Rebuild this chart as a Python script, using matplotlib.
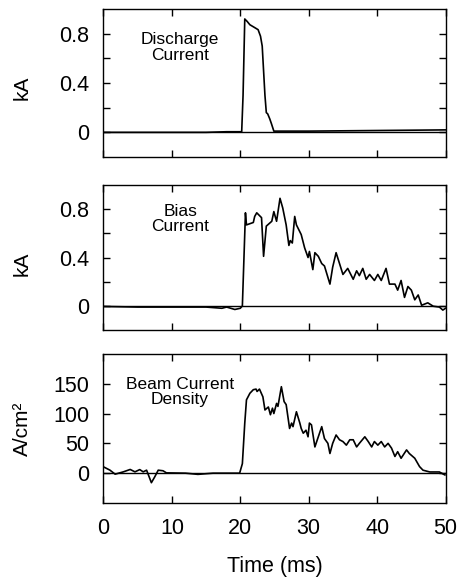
import numpy as np
import matplotlib
matplotlib.use('Agg')
import matplotlib.pyplot as plt

plt.rcParams['font.family'] = ['Liberation Sans', 'DejaVu Sans']

# discharge current (kA)
t_dis = [0, 5, 10, 15, 18, 20.2, 20.4, 20.65, 21.0, 21.4, 22.1, 22.6, 22.95, 23.2,
         23.4, 23.6, 23.8, 24.0, 24.3, 24.55, 24.9, 26, 30, 40, 50]
i_dis = [0.0, 0.0, 0.0, 0.0, 0.005, 0.005, 0.3, 0.92, 0.9, 0.873, 0.85, 0.833, 0.78, 0.7,
         0.5, 0.3, 0.16, 0.15, 0.11, 0.07, 0.01, 0.01, 0.01, 0.015, 0.02]

# bias current (kA)
t_bias = [0, 5, 10, 15, 17.3, 18, 19.2, 20.0, 20.3, 20.75, 20.9, 21.9, 22.1, 22.4, 23.1,
          23.4, 23.8, 24.6, 24.9, 25.3, 25.8, 26.2, 26.7, 27.1, 27.3, 27.6, 27.95,
          28.2, 28.9, 29.4, 29.9, 30.1, 30.6, 30.9, 31.4, 31.9, 32.3, 33.1, 33.5,
          34.0, 34.5, 35.0, 35.7, 36.5, 37.0, 37.4, 37.9, 38.4, 38.9, 39.6, 40.1,
          40.6, 41.3, 41.8, 42.6, 43.0, 43.5, 44.0, 44.5, 45.0, 45.5, 46.0, 46.5,
          47.4, 48.2, 49.1, 49.6, 50]
i_bias = [-0.005, -0.01, -0.01, -0.01, -0.02, -0.01, -0.03, -0.02, 0.0, 0.77, 0.67, 0.69,
          0.74, 0.77, 0.73, 0.41, 0.66, 0.70, 0.78, 0.70, 0.89, 0.81, 0.67, 0.50,
          0.54, 0.52, 0.74, 0.67, 0.59, 0.48, 0.40, 0.45, 0.30, 0.44, 0.41, 0.35,
          0.33, 0.18, 0.32, 0.44, 0.35, 0.26, 0.31, 0.22, 0.29, 0.25, 0.31, 0.22,
          0.26, 0.21, 0.26, 0.21, 0.31, 0.18, 0.18, 0.13, 0.21, 0.07, 0.16, 0.13,
          0.05, 0.09, 0.005, 0.025, -0.003, -0.01, -0.035, -0.02]

# beam current density (A/cm2)
t_beam = [0, 0.95, 1.7, 2.9, 3.9, 4.6, 5.3, 5.8, 6.3, 7.0, 7.5, 8.0, 8.7, 9.2, 12,
          13.8, 16, 19.9, 20.3, 20.65, 20.9, 21.4, 21.9, 22.3, 22.45, 22.8, 23.3,
          23.6, 24.1, 24.4, 24.7, 24.9, 25.3, 25.5, 26.0, 26.4, 26.7, 27.2, 27.5,
          27.7, 28.2, 28.7, 28.9, 29.2, 29.6, 29.9, 30.1, 30.4, 30.9, 31.4, 31.9,
          32.3, 32.8, 33.1, 33.5, 34.0, 34.5, 35.0, 35.5, 36.0, 36.5, 37.0, 37.4,
          38.2, 38.7, 39.2, 39.6, 40.1, 40.6, 41.1, 41.6, 42.1, 42.6, 43.0, 43.5,
          44.3, 44.7, 45.5, 46.2, 46.7, 47.7, 49.1, 49.9]
j_beam = [10.6, 5, -1.7, 2.2, 6.2, 2.2, 6, 2.2, 5, -16, -6, 5, 4, 0.5, 0,
          -2, 0, 0, 16, 84, 123, 134, 140, 141, 137, 141, 128,
          106, 111, 98, 109, 100, 117, 112, 145, 120, 115, 75, 84,
          78, 103, 84, 75, 67, 72, 61, 84, 81, 44, 61, 78,
          58, 50, 33, 50, 64, 56, 53, 47, 56, 56, 44, 50,
          61, 53, 44, 53, 47, 53, 44, 50, 42, 28, 36, 25,
          39, 33, 25, 11, 5, 2, 2, -3]

fig = plt.figure(figsize=(4.61, 5.8), dpi=100)
left, width = 0.2245, 0.742
ax1 = fig.add_axes([left, 0.7293, width, 0.255])
ax2 = fig.add_axes([left, 0.431, width, 0.25])
ax3 = fig.add_axes([left, 0.1328, width, 0.257])

panels = [
    (ax1, t_dis, i_dis, (-0.2, 1.0), [0, 0.2, 0.4, 0.6, 0.8], ['0', '', '0.4', '', '0.8'],
     'kA', 'Discharge\nCurrent', 0.69, 0.466),
    (ax2, t_bias, i_bias, (-0.2, 1.0), [0, 0.2, 0.4, 0.6, 0.8], ['0', '', '0.4', '', '0.8'],
     'kA', 'Bias\nCurrent', 0.72, 0.46),
    (ax3, t_beam, j_beam, (-50, 200), [0, 50, 100, 150], ['0', '50', '100', '150'],
     'A/cm²', 'Beam Current\nDensity', 136, 0.5),
]

for ax, t, v, ylim, yt, ytl, ylab, txt, ty, ly in panels:
    ax.plot(t, v, color='black', lw=1.2)
    ax.axhline(0, color='black', lw=1.0, zorder=1)
    ax.set_xlim(0, 50)
    ax.set_ylim(*ylim)
    ax.set_yticks(yt)
    ax.set_yticklabels(ytl)
    ax.set_xticks([0, 10, 20, 30, 40, 50])
    ax.tick_params(direction='in', length=5, width=1, top=True, right=True,
                   labelsize=15.5, pad=10)
    ax.tick_params(axis='x', pad=11)
    for s in ax.spines.values():
        s.set_linewidth(1.0)
    ax.set_ylabel(ylab, fontsize=15)
    ax.yaxis.set_label_coords(-0.21, ly)
    ax.text(11.2, ty, txt, ha='center', va='center', fontsize=12.5, linespacing=1.05)

ax1.tick_params(labelbottom=False)
ax2.tick_params(labelbottom=False)
ax3.set_xlabel('Time (ms)', fontsize=15.5, labelpad=12)

fig.savefig('out.png', dpi=100)
